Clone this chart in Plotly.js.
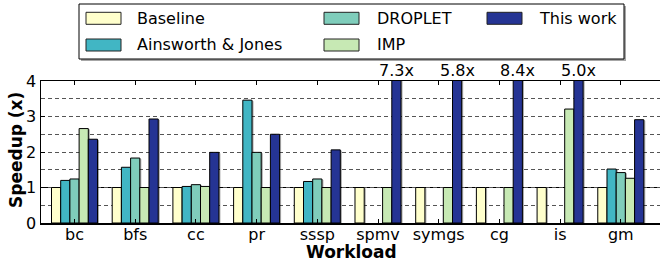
<!DOCTYPE html>
<html>
<head>
<meta charset="utf-8">
<script src="https://cdn.plot.ly/plotly-3.0.1.min.js"></script>
<style>
html, body { margin: 0; padding: 0; background: #fff; overflow: hidden; }
#chart { width: 660px; height: 261px; }
.barlayer .point path { filter: drop-shadow(1.5px 1px 0px rgba(0,0,0,0.35)); }
</style>
</head>
<body>
<div id="chart"></div>
<script>
// ---- data ----
const categories = ['bc', 'bfs', 'cc', 'pr', 'sssp', 'spmv', 'symgs', 'cg', 'is', 'gm'];
const seriesNames = ['Baseline', 'Ainsworth & Jones', 'DROPLET', 'IMP', 'This work'];
const baseline  = [1, 1, 1, 1, 1, 1, 1, 1, 1, 1];
const ainsworth = [1.20, 1.57, 1.03, 3.46, 1.17, null, null, null, null, 1.52];
const droplet   = [1.24, 1.83, 1.08, 1.99, 1.24, null, null, null, null, 1.42];
const imp       = [2.66, 1.00, 1.03, 1.00, 1.00, 1.00, 1.00, 1.00, 3.21, 1.26];
const thisWork  = [2.36, 2.93, 1.99, 2.50, 2.06, 7.3, 5.8, 8.4, 5.0, 2.91];
const yTicks = [0, 1, 2, 3, 4];
const xTitle = 'Workload';
const yTitle = 'Speedup (x)';

// ---- style ----
const colors = ['#ffffcc', '#41b6c4', '#7fcdbb', '#c7e9b4', '#253494'];
const allSeries = [baseline, ainsworth, droplet, imp, thisWork];
const font = 'DejaVu Sans, sans-serif';
const W = 660, H = 261;
const M = {l: 41, r: 0, t: 81, b: 38};
const plotW = W - M.l - M.r, plotH = H - M.t - M.b;
const xRange = [-0.552, 9.646];
const yMax = 4;
const bargap = 0.242;
const barW = (1 - bargap) / seriesNames.length;

const traces = seriesNames.map((name, i) => ({
  type: 'bar',
  name: name,
  x: categories,
  y: allSeries[i],
  marker: {color: colors[i], line: {color: '#000', width: 1}},
  showlegend: false,
  hoverinfo: 'x+y+name'
}));

// pixel -> paper helpers for the custom legend and titles
const px = v => (v - M.l) / plotW;
const py = v => (H - M.b - v) / plotH;

const shapes = [
  {type: 'line', xref: 'paper', yref: 'y', x0: 0, x1: 1, y0: 1, y1: 1,
   line: {color: '#000', width: 1.2}, layer: 'below'},
  // legend shadow + box
  {type: 'rect', xref: 'paper', yref: 'paper', x0: px(81), x1: px(626), y0: py(6), y1: py(61),
   line: {width: 0}, fillcolor: 'rgba(0,0,0,0.35)'},
  {type: 'rect', xref: 'paper', yref: 'paper', x0: px(79), x1: px(624), y0: py(4), y1: py(59),
   line: {color: '#000', width: 1}, fillcolor: '#fff'}
];

const annotations = [
  // axis titles
  {xref: 'paper', yref: 'paper', x: px(351.5), y: py(252), text: '<b>' + xTitle + '</b>',
   showarrow: false, xanchor: 'center', yanchor: 'middle',
   font: {family: font, size: 17, color: '#000'}},
  {xref: 'paper', yref: 'paper', x: px(15.5), y: py(150.5), text: '<b>' + yTitle + '</b>',
   showarrow: false, xanchor: 'center', yanchor: 'middle', textangle: -90,
   font: {family: font, size: 17, color: '#000'}}
];
// overflow labels above clipped bars
thisWork.forEach((v, i) => {
  if (v > yMax) {
    annotations.push({
      x: i + 2 * barW, y: yMax, xref: 'x', yref: 'y',
      text: v.toFixed(1) + 'x', showarrow: false,
      xanchor: 'center', yanchor: 'bottom', yshift: -1,
      font: {family: font, size: 16, color: '#000'}
    });
  }
});

// custom legend (column-major, 3 columns)
const legendPos = [
  {sx: 86, tx: 135, row: 0},
  {sx: 86, tx: 135, row: 1},
  {sx: 324, tx: 375, row: 0},
  {sx: 324, tx: 375, row: 1},
  {sx: 487, tx: 537, row: 0}
];
const rowY = [18.3, 45];
seriesNames.forEach((name, i) => {
  const p = legendPos[i];
  const cy = rowY[p.row];
  shapes.push({type: 'rect', xref: 'paper', yref: 'paper',
    x0: px(p.sx), x1: px(p.sx + 35), y0: py(cy - 6), y1: py(cy + 6),
    line: {color: '#222', width: 1}, fillcolor: colors[i]});
  annotations.push({xref: 'paper', yref: 'paper', x: px(p.tx), y: py(cy),
    xanchor: 'left', yanchor: 'middle', text: name, showarrow: false,
    font: {family: font, size: 16, color: '#000'}});
});

const layout = {
  width: W, height: H,
  margin: M,
  paper_bgcolor: '#fff', plot_bgcolor: '#fff',
  font: {family: font, size: 16, color: '#000'},
  barmode: 'group',
  bargap: bargap,
  bargroupgap: 0,
  showlegend: false,
  xaxis: {
    type: 'category',
    range: xRange,
    showline: true, linecolor: '#000', linewidth: 1.5,
    mirror: 'ticks',
    ticks: 'inside', ticklen: 4, tickcolor: '#000',
    ticklabelstandoff: -4,
    showgrid: false, zeroline: false,
    tickfont: {family: font, size: 16, color: '#000'},
    title: {text: ''}
  },
  yaxis: {
    range: [0, yMax],
    tickmode: 'array', tickvals: yTicks, ticktext: yTicks.map(String),
    showline: true, linecolor: '#000', linewidth: 1.5, mirror: false,
    ticks: 'inside', ticklen: 4, tickcolor: '#000',
    showgrid: true, gridcolor: '#555', gridwidth: 1, griddash: '4px,3px',
    minor: {tickmode: 'linear', tick0: 0, dtick: 0.5, showgrid: true,
            gridcolor: '#555', gridwidth: 1, griddash: '4px,3px', ticks: ''},
    zeroline: false,
    tickfont: {family: font, size: 16, color: '#000'},
    title: {text: ''}
  },
  shapes: shapes,
  annotations: annotations
};

Plotly.newPlot('chart', traces, layout, {displayModeBar: false, staticPlot: true});
</script>
</body>
</html>
